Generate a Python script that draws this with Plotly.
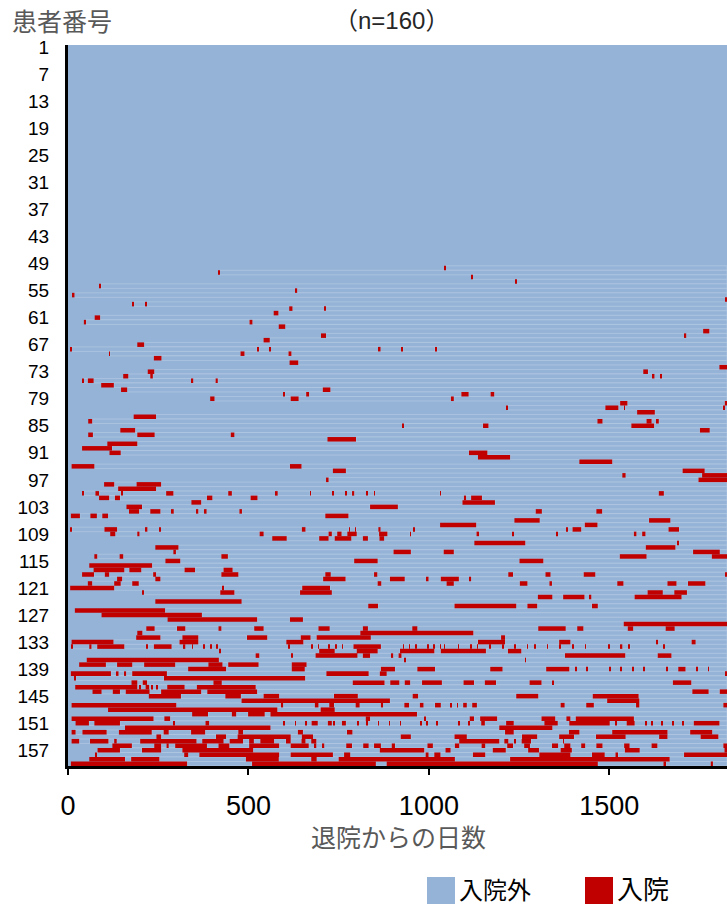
import plotly.graph_objects as go

# ---------------- data ----------------
n_patients = 160
follow_up_days = 1826
y_tick_labels = list(range(1, 161, 6))
x_tick_labels = [0, 500, 1000, 1500]
legend_labels = ["入院外", "入院"]

# patients with at least one readmission
stay_patient = [
    50, 51, 52, 53, 54, 55, 56, 57, 58, 59,
    60, 61, 62, 63, 64, 65, 66, 67, 68, 69,
    70, 71, 72, 73, 74, 75, 76, 77, 78, 79,
    80, 81, 82, 83, 84, 85, 86, 87, 88, 89,
    90, 91, 92, 93, 94, 95, 96, 97, 98, 99,
    100, 101, 102, 103, 104, 105, 106, 107, 108, 109,
    110, 111, 112, 113, 114, 115, 116, 117, 118, 119,
    120, 121, 122, 123, 124, 125, 126, 127, 128, 129,
    130, 131, 132, 133, 134, 135, 136, 137, 138, 139,
    140, 141, 142, 143, 144, 145, 146, 147, 148, 149,
    150, 151, 152, 153, 154, 155, 156, 157, 158, 159,
    160,
]

# hospital stays [start day, end day] for each patient above (same order)
stay_periods = [
    [[1042, 1045]],                                   # 50
    [[417, 420]],                                     # 51
    [[1117, 1120]],                                   # 52
    [[1239, 1242]],                                   # 53
    [[86, 91]],                                       # 54
    [[630, 635]],                                     # 55
    [[11, 18]],                                       # 56
    [[1822, 1826]],                                   # 57
    [[179, 183], [215, 219]],                         # 58
    [[613, 622], [712, 714]],                         # 59
    [[570, 583]],                                     # 60
    [[74, 89]],                                       # 61
    [[44, 50], [503, 511]],                           # 62
    [[584, 602]],                                     # 63
    [[1760, 1777]],                                   # 64
    [[701, 715], [1708, 1713]],                       # 65
    [[542, 559]],                                     # 66
    [[192, 211]],                                     # 67
    [[8, 10], [524, 529], [559, 561], [861, 866], [925, 928], [1017, 1022]],  # 68
    [[114, 116], [478, 489], [611, 619]],             # 69
    [[238, 259]],                                     # 70
    [[614, 638]],                                     # 71
    [[1805, 1826]],                                   # 72
    [[221, 239], [1594, 1607]],                       # 73
    [[153, 167], [228, 235], [1620, 1625], [1642, 1646]],  # 74
    [[39, 42], [55, 71], [342, 347], [409, 415]],     # 75
    [[92, 127]],                                      # 76
    [[147, 164], [706, 727]],                         # 77
    [[597, 601], [660, 668], [1090, 1110], [1171, 1181]],  # 78
    [[394, 406], [617, 639], [1061, 1069]],           # 79
    [[1530, 1550], [1820, 1826]],                     # 80
    [[1214, 1217], [1489, 1525], [1541, 1543], [1815, 1818]],  # 81
    [[1577, 1626]],                                   # 82
    [[182, 244]],                                     # 83
    [[56, 67], [1467, 1481], [1603, 1617], [1632, 1637]],  # 84
    [[928, 930], [1150, 1165], [1561, 1624]],         # 85
    [[145, 186], [1751, 1778]],                       # 86
    [[56, 69], [192, 240], [451, 461]],               # 87
    [[719, 798]],                                     # 88
    [[109, 192]],                                     # 89
    [[39, 122]],                                      # 90
    [[115, 146], [1111, 1162]],                       # 91
    [[1136, 1225]],                                   # 92
    [[1417, 1508]],                                   # 93
    [[10, 73], [615, 647]],                           # 94
    [[734, 770], [1703, 1764]],                       # 95
    [[1536, 1545], [1757, 1826]],                     # 96
    [[715, 722], [1747, 1826]],                       # 97
    [[100, 128], [190, 258]],                         # 98
    [[139, 244]],                                     # 99
    [[39, 44], [76, 86], [147, 150], [272, 292], [444, 454], [576, 581], [671, 673],
     [733, 735], [769, 771], [787, 793], [827, 830], [848, 850], [1031, 1033], [1637, 1651]],  # 100
    [[86, 114], [130, 144], [385, 400], [506, 525], [1097, 1103], [1117, 1147]],  # 101
    [[342, 369], [1093, 1183]],                       # 102
    [[162, 205], [837, 914]],                         # 103
    [[169, 197], [228, 256], [288, 293], [356, 361], [379, 384], [475, 482],
     [1296, 1313], [1464, 1480]],                     # 104
    [[8, 33], [62, 80], [95, 111], [713, 777]],       # 105
    [[1237, 1307], [1610, 1669]],                     # 106
    [[1031, 1131], [1432, 1467]],                     # 107
    [[6, 11], [101, 136], [215, 220], [253, 255], [648, 658], [779, 781], [796, 798],
     [860, 866], [958, 960], [1382, 1384], [1398, 1422], [1664, 1693]],  # 108
    [[117, 131], [192, 198], [531, 542], [722, 731], [746, 758], [774, 800], [862, 885],
     [948, 950], [1132, 1139], [1232, 1234], [1354, 1356], [1568, 1575], [1591, 1600]],  # 109
    [[566, 606], [696, 722], [739, 785], [817, 831], [863, 876]],  # 110
    [[1126, 1267], [1688, 1693]],                     # 111
    [[242, 306], [1601, 1683]],                       # 112
    [[292, 299], [902, 950], [1041, 1069], [1732, 1806]],  # 113
    [[73, 81], [143, 153], [425, 443], [1529, 1603], [1784, 1826]],  # 114
    [[270, 311], [793, 858], [1251, 1317]],           # 115
    [[59, 233]],                                      # 116
    [[71, 156], [170, 203], [323, 352], [431, 456]],  # 117
    [[39, 72], [102, 114], [236, 244], [425, 472], [713, 728], [848, 857], [1220, 1233],
     [1323, 1337], [1429, 1461], [1823, 1826]],       # 118
    [[136, 150], [242, 256], [707, 769], [892, 933], [994, 999], [1033, 1083], [1113, 1117]],  # 119
    [[55, 67], [128, 146], [178, 196], [858, 868], [1049, 1069], [1252, 1273], [1334, 1341],
     [1522, 1539], [1661, 1686], [1718, 1766]],       # 120
    [[6, 128], [429, 432], [649, 726]],               # 121
    [[206, 210], [422, 461], [643, 731], [1606, 1648], [1680, 1715]],  # 122
    [[1302, 1342], [1372, 1431], [1446, 1450], [1570, 1700]],  # 123
    [[242, 481]],                                     # 124
    [[832, 859], [1071, 1242], [1273, 1300], [1452, 1468]],  # 125
    [[19, 269]],                                      # 126
    [[93, 371]],                                      # 127
    [[276, 524], [615, 651]],                         # 128
    [[1540, 1826]],                                   # 129
    [[217, 240], [302, 325], [417, 425], [516, 542], [694, 725], [817, 831], [954, 968],
     [1303, 1379], [1411, 1428], [1551, 1566], [1656, 1681]],  # 130
    [[192, 206], [810, 1123]],                        # 131
    [[189, 256], [317, 361], [496, 552], [645, 672], [689, 839], [1200, 1211]],  # 132
    [[10, 126], [309, 361], [605, 652], [1136, 1211], [1361, 1392], [1632, 1635], [1728, 1739]],  # 133
    [[10, 12], [59, 65], [81, 156], [217, 221], [238, 287], [320, 325], [344, 346], [376, 378],
     [395, 397], [412, 414], [612, 614], [676, 678], [693, 695], [723, 725], [742, 744],
     [760, 762], [791, 867], [929, 931], [945, 947], [963, 965], [996, 998], [1013, 1015],
     [1031, 1033], [1042, 1044], [1081, 1083], [1116, 1118], [1134, 1136], [1168, 1170],
     [1204, 1206], [1238, 1241], [1272, 1274], [1293, 1296], [1328, 1330], [1363, 1365],
     [1399, 1401], [1433, 1435], [1498, 1500], [1532, 1536], [1553, 1557], [1651, 1653]],  # 134
    [[420, 423], [696, 739], [800, 858], [920, 1015], [1033, 1158], [1219, 1256]],  # 135
    [[520, 530], [620, 622], [686, 802], [817, 837], [897, 901], [916, 924], [1377, 1544],
     [1634, 1672]],                                   # 136
    [[52, 418], [932, 936], [1267, 1269]],            # 137
    [[31, 105], [136, 178], [211, 297], [389, 428], [444, 528], [620, 661]],  # 138
    [[333, 438], [620, 656], [867, 906], [968, 1017], [1170, 1204], [1325, 1389], [1406, 1408],
     [1437, 1439], [1500, 1502], [1531, 1533], [1565, 1567], [1595, 1597], [1659, 1661],
     [1691, 1711], [1742, 1744], [1774, 1776]],       # 139
    [[8, 119], [135, 140], [156, 161], [178, 274], [716, 833], [864, 883], [1822, 1826]],  # 140
    [[17, 22], [266, 657]],                           # 141
    [[176, 192], [207, 219], [403, 426], [789, 877], [893, 918], [933, 948], [981, 1036],
     [1096, 1125], [1155, 1186], [1279, 1312], [1342, 1344], [1676, 1727]],  # 142
    [[20, 192], [199, 201], [215, 225], [231, 233], [245, 247], [275, 323], [357, 520]],  # 143
    [[68, 93], [124, 144], [160, 226], [258, 369], [386, 524], [1730, 1775], [1806, 1826]],  # 144
    [[224, 313], [436, 479], [542, 585], [737, 803], [955, 970], [1242, 1303], [1454, 1581]],  # 145
    [[481, 892], [1494, 1583]],                       # 146
    [[10, 300], [590, 596], [684, 694], [724, 737], [797, 808], [867, 873], [932, 945],
     [975, 985], [1017, 1033], [1061, 1063], [1078, 1080], [1095, 1105], [1120, 1133],
     [1365, 1376], [1436, 1457], [1574, 1583], [1816, 1826]],  # 147
    [[111, 580], [700, 739]],                         # 148
    [[344, 388], [454, 466], [499, 545], [561, 967]], # 149
    [[10, 237], [267, 283], [825, 837], [989, 991], [1113, 1125], [1142, 1189], [1312, 1350],
     [1381, 1392], [1407, 1568]],                     # 150
    [[21, 58], [73, 144], [293, 295], [381, 391], [598, 600], [629, 631], [658, 660],
     [675, 692], [720, 731], [737, 739], [759, 770], [802, 804], [828, 830], [859, 861],
     [890, 892], [920, 922], [978, 980], [994, 996], [1022, 1024], [1082, 1084], [1111, 1113],
     [1145, 1155], [1214, 1235], [1320, 1357], [1389, 1501], [1517, 1519], [1548, 1570],
     [1601, 1603], [1618, 1620], [1645, 1647], [1676, 1678], [1704, 1706], [1734, 1805]],  # 151
    [[158, 561], [1195, 1342]],                       # 152
    [[10, 21], [40, 107], [141, 232], [265, 279], [341, 380], [472, 485], [637, 651],
     [773, 788], [1211, 1235], [1388, 1417], [1508, 1661], [1724, 1785]],  # 153
    [[245, 258], [410, 438], [470, 617], [648, 679], [922, 950], [1071, 1105], [1258, 1300],
     [1361, 1402], [1463, 1545], [1638, 1661], [1753, 1802]],  # 154
    [[10, 31], [61, 112], [128, 135], [200, 356], [372, 431], [448, 485], [502, 515],
     [533, 571], [604, 617], [647, 658], [674, 688], [1084, 1195], [1209, 1220], [1237, 1240],
     [1257, 1283], [1372, 1374]],                     # 155
    [[123, 177], [239, 258], [273, 279], [297, 385], [417, 447], [502, 585], [617, 667],
     [683, 688], [705, 710], [771, 787], [818, 833], [848, 867], [897, 906], [996, 1011],
     [1072, 1084], [1146, 1156], [1217, 1233], [1264, 1280], [1341, 1358], [1375, 1392],
     [1422, 1433], [1464, 1481], [1541, 1556], [1617, 1633], [1816, 1826]],  # 156
    [[82, 144], [205, 258], [317, 513], [864, 987], [1046, 1060], [1177, 1213], [1275, 1305],
     [1365, 1396], [1543, 1584], [1819, 1826]],       # 157
    [[77, 79], [322, 333], [364, 585], [617, 734], [765, 782], [991, 999], [1015, 1032],
     [1122, 1156], [1306, 1392], [1452, 1487], [1517, 1524], [1707, 1826]],  # 158
    [[59, 158], [175, 253], [493, 584], [674, 689], [750, 1072], [1225, 1667]],  # 159
    [[8, 330], [510, 853], [883, 1468], [1650, 1657], [1781, 1787]],  # 160
]

# ---------------- styles ----------------
BLUE = "#95B3D7"
RED = "#C00000"
FONT = "Liberation Sans, Arial, Noto Sans CJK JP, sans-serif"

# ---------------- build segments ----------------
patients = list(range(1, n_patients + 1))

red_y, red_base, red_len = [], [], []
gap_y, gap_base, gap_len = [], [], []
for pid, periods in zip(stay_patient, stay_periods):
    periods = sorted(periods)
    for i, (s, e) in enumerate(periods):
        red_y.append(pid)
        red_base.append(s)
        red_len.append(max(e - s, 1.5))
        nxt = periods[i + 1][0] if i + 1 < len(periods) else follow_up_days
        if nxt > e:
            gap_y.append(pid)
            gap_base.append(e)
            gap_len.append(nxt - e)

fig = go.Figure()
fig.add_trace(go.Bar(
    y=patients, x=[follow_up_days] * n_patients, base=[0] * n_patients,
    orientation="h", width=1, marker=dict(color=BLUE, line=dict(width=0)),
    name=legend_labels[0], showlegend=False, hoverinfo="skip",
))
fig.add_trace(go.Bar(
    y=gap_y, x=gap_len, base=gap_base,
    orientation="h", width=1,
    marker=dict(color=BLUE, line=dict(color="#B9CCE4", width=0.6)),
    showlegend=False, hoverinfo="skip",
))
fig.add_trace(go.Bar(
    y=red_y, x=red_len, base=red_base,
    orientation="h", width=1, marker=dict(color=RED, line=dict(width=0)),
    name=legend_labels[1], showlegend=False, hoverinfo="skip",
))

# pixel -> paper helpers for decorations
L, R, T, B = 68, 727, 45, 766
def px(x):
    return (x - L) / (R - L)
def py(y):
    return (B - y) / (B - T)

fig.update_layout(
    width=727, height=904,
    margin=dict(l=L, r=727 - R, t=T, b=904 - B, autoexpand=False),
    barmode="overlay",
    paper_bgcolor="white", plot_bgcolor=BLUE,
    font=dict(family=FONT, color="black"),
    showlegend=False,
    xaxis=dict(
        range=[0, follow_up_days], tickvals=x_tick_labels,
        ticktext=[str(v) for v in x_tick_labels],
        ticks="outside", ticklen=6, tickwidth=2, tickcolor="black",
        showline=True, linecolor="black", linewidth=3,
        showgrid=False, zeroline=False,
        tickfont=dict(size=27, color="black", family=FONT),
        ticklabelstandoff=8,
    ),
    yaxis=dict(
        range=[n_patients + 0.5, 0.5], tickvals=y_tick_labels,
        ticktext=[str(v) for v in y_tick_labels],
        ticks="outside", ticklen=12, tickcolor="rgba(0,0,0,0)",
        showline=True, linecolor="black", linewidth=3,
        showgrid=False, zeroline=False,
        tickfont=dict(size=19, color="black", family=FONT),
    ),
    annotations=[
        dict(text="患者番号", xref="paper", yref="paper", x=px(10), y=py(22),
             xanchor="left", yanchor="middle", showarrow=False,
             font=dict(size=25, color="#595959", family=FONT)),
        dict(text="（n=160）", xref="paper", yref="paper", x=px(391), y=py(20),
             xanchor="center", yanchor="middle", showarrow=False,
             font=dict(size=24, color="#262626", family=FONT)),
        dict(text="退院からの日数", xref="paper", yref="paper", x=px(398), y=py(838),
             xanchor="center", yanchor="middle", showarrow=False,
             font=dict(size=25, color="#595959", family=FONT)),
        dict(text=legend_labels[0], xref="paper", yref="paper", x=px(457), y=py(890),
             xanchor="left", yanchor="middle", showarrow=False,
             font=dict(size=24, color="black", family=FONT)),
        dict(text=legend_labels[1], xref="paper", yref="paper", x=px(615), y=py(890),
             xanchor="left", yanchor="middle", showarrow=False,
             font=dict(size=26, color="black", family=FONT)),
    ],
    shapes=[
        dict(type="rect", xref="paper", yref="paper", x0=px(427), x1=px(455),
             y0=py(904), y1=py(877), fillcolor=BLUE, line=dict(width=0)),
        dict(type="rect", xref="paper", yref="paper", x0=px(585), x1=px(613),
             y0=py(904), y1=py(877), fillcolor=RED, line=dict(width=0)),
    ],
)

fig.write_html(
    "out.html",
    config={"displayModeBar": False},
    post_script="document.body.style.margin='0';document.body.style.overflow='hidden';",
)
